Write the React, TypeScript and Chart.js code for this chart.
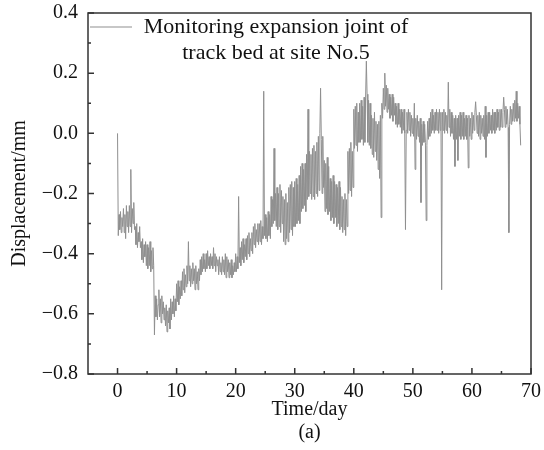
import React, { useEffect, useRef } from "react";
import { Chart, registerables } from "chart.js";

Chart.register(...registerables);

// Sampling step of the monitoring record (days)
const STEP_DAYS = 0.125;

// Displacement readings (mm), one per STEP_DAYS starting at day 0 (8 per day)
const displacement: number[] = [
  0.00, -0.34, -0.27, -0.32, -0.26, -0.33, -0.28, -0.31,
  -0.25, -0.33, -0.27, -0.35, -0.24, -0.31, -0.26, -0.33,
  -0.24, -0.31, -0.12, -0.33, -0.25, -0.30, -0.23, -0.32,
  -0.31, -0.37, -0.30, -0.38, -0.33, -0.36, -0.31, -0.38,
  -0.36, -0.42, -0.35, -0.43, -0.37, -0.41, -0.36, -0.44,
  -0.37, -0.45, -0.38, -0.44, -0.36, -0.46, -0.39, -0.45,
  -0.38, -0.44, -0.67, -0.54, -0.61, -0.55, -0.62, -0.57,
  -0.52, -0.61, -0.55, -0.63, -0.54, -0.60, -0.56, -0.62,
  -0.58, -0.64, -0.57, -0.66, -0.59, -0.63, -0.58, -0.65,
  -0.55, -0.62, -0.56, -0.60, -0.54, -0.61, -0.55, -0.59,
  -0.50, -0.56, -0.49, -0.57, -0.51, -0.55, -0.49, -0.54,
  -0.46, -0.52, -0.45, -0.53, -0.47, -0.51, -0.44, -0.50,
  -0.36, -0.49, -0.44, -0.51, -0.45, -0.50, -0.43, -0.49,
  -0.45, -0.52, -0.44, -0.50, -0.46, -0.52, -0.45, -0.49,
  -0.42, -0.47, -0.41, -0.46, -0.40, -0.45, -0.42, -0.46,
  -0.40, -0.45, -0.39, -0.44, -0.41, -0.45, -0.40, -0.44,
  -0.41, -0.45, -0.38, -0.44, -0.40, -0.46, -0.41, -0.44,
  -0.42, -0.47, -0.41, -0.46, -0.43, -0.47, -0.41, -0.46,
  -0.42, -0.47, -0.40, -0.48, -0.41, -0.46, -0.42, -0.48,
  -0.43, -0.47, -0.42, -0.48, -0.44, -0.47, -0.43, -0.46,
  -0.40, -0.46, -0.41, -0.45, -0.21, -0.43, -0.38, -0.44,
  -0.36, -0.42, -0.35, -0.43, -0.37, -0.41, -0.35, -0.42,
  -0.34, -0.40, -0.33, -0.41, -0.35, -0.39, -0.33, -0.40,
  -0.31, -0.37, -0.30, -0.38, -0.32, -0.36, -0.30, -0.37,
  -0.30, -0.36, -0.29, -0.37, -0.31, -0.35, 0.14, -0.34,
  -0.27, -0.35, -0.28, -0.36, -0.26, -0.34, -0.27, -0.35,
  -0.21, -0.31, -0.22, -0.30, -0.05, -0.29, -0.20, -0.31,
  -0.18, -0.32, -0.20, -0.31, -0.17, -0.33, -0.19, -0.30,
  -0.21, -0.36, -0.22, -0.37, -0.20, -0.35, -0.23, -0.36,
  -0.18, -0.33, -0.17, -0.32, -0.16, -0.34, -0.18, -0.31,
  -0.16, -0.31, -0.15, -0.30, -0.17, -0.29, -0.14, -0.30,
  -0.11, -0.26, -0.10, -0.25, -0.12, -0.24, -0.10, -0.26,
  -0.07, -0.22, 0.08, -0.21, -0.06, -0.20, -0.07, -0.22,
  -0.05, -0.21, -0.04, -0.22, -0.06, -0.20, -0.03, -0.21,
  -0.01, -0.19, 0.00, 0.15, -0.02, -0.20, -0.01, -0.18,
  -0.09, -0.26, -0.10, -0.25, -0.08, -0.27, -0.11, -0.26,
  -0.15, -0.29, -0.16, -0.28, -0.14, -0.30, -0.16, -0.28,
  -0.17, -0.31, -0.18, -0.30, -0.16, -0.32, -0.18, -0.31,
  -0.21, -0.33, -0.22, -0.32, -0.20, -0.34, -0.22, -0.31,
  -0.06, -0.20, -0.05, -0.19, -0.03, -0.21, -0.06, -0.18,
  0.08, -0.05, 0.09, -0.04, 0.10, -0.06, 0.07, -0.03,
  0.10, -0.03, 0.11, -0.02, 0.09, -0.04, 0.12, -0.03,
  0.12, 0.24, 0.13, -0.03, 0.11, -0.04, 0.10, -0.05,
  0.06, -0.07, 0.05, -0.08, 0.07, -0.06, 0.04, -0.09,
  0.03, -0.12, 0.04, -0.15, 0.06, -0.28, 0.10, 0.05,
  0.15, 0.08, 0.20, 0.09, 0.16, 0.07, 0.15, 0.08,
  0.13, 0.05, 0.12, 0.06, 0.13, 0.04, 0.12, 0.06,
  0.10, 0.03, 0.09, 0.02, 0.10, 0.03, 0.08, 0.02,
  0.08, 0.00, 0.07, 0.01, 0.08, 0.00, -0.32, 0.01,
  0.07, 0.00, 0.08, 0.01, 0.07, -0.01, 0.06, 0.00,
  0.05, -0.01, 0.10, -0.12, 0.05, -0.02, 0.06, -0.01,
  0.04, -0.03, 0.05, -0.23, 0.03, -0.04, 0.04, -0.03,
  0.03, -0.03, -0.29, -0.04, 0.04, -0.02, 0.05, -0.01,
  0.07, 0.00, 0.08, 0.01, 0.06, 0.00, 0.07, 0.01,
  0.08, 0.01, 0.07, 0.00, 0.08, 0.01, 0.07, -0.52,
  0.07, 0.01, 0.08, 0.00, 0.07, 0.01, 0.06, 0.00,
  0.17, 0.02, 0.08, -0.01, 0.07, 0.00, 0.06, -0.02,
  0.05, -0.11, 0.06, -0.02, 0.05, -0.09, 0.06, -0.01,
  0.07, -0.02, 0.06, -0.01, 0.07, -0.02, 0.05, -0.01,
  0.06, -0.02, 0.05, -0.115, 0.06, -0.01, 0.05, -0.02,
  0.07, 0.00, 0.06, 0.01, 0.07, 0.105, 0.06, 0.00,
  0.06, -0.01, 0.07, -0.02, 0.06, 0.00, 0.05, -0.01,
  0.06, -0.02, 0.09, -0.08, 0.06, -0.01, 0.07, 0.00,
  0.07, 0.01, 0.06, 0.00, 0.08, 0.01, 0.07, 0.00,
  0.07, 0.01, 0.08, 0.02, 0.07, 0.01, 0.08, 0.02,
  0.08, 0.02, 0.07, 0.12, 0.08, 0.02, 0.09, 0.03,
  0.08, 0.02, -0.33, 0.03, 0.09, 0.03, 0.08, 0.04,
  0.10, 0.04, 0.11, 0.05, 0.14, 0.04, 0.10, 0.05,
  0.09, 0.03, -0.04,
];

const xMajorTicks = [0, 10, 20, 30, 40, 50, 60, 70];
const xMinorTicks = [5, 15, 25, 35, 45, 55, 65];
const yMajorTicks = [-0.8, -0.6, -0.4, -0.2, 0.0, 0.2, 0.4];
const yMinorTicks = [-0.7, -0.5, -0.3, -0.1, 0.1, 0.3];

const legendLines = ["Monitoring expansion joint of", "track bed at site No.5"];
const xTitle = "Time/day";
const yTitle = "Displacement/mm";
const subCaption = "(a)";

const FONT = "'Liberation Serif', 'Times New Roman', serif";
const LINE_COLOR = "#8f8f8f";
const AXIS_COLOR = "#333333";

const decorPlugin = {
  id: "decor",
  afterDraw(chart: any) {
    const { ctx, chartArea, scales } = chart;
    const xs = scales.x;
    const ys = scales.y;
    const { left, right, top, bottom } = chartArea;
    ctx.save();
    ctx.strokeStyle = AXIS_COLOR;
    ctx.lineWidth = 1.5;
    ctx.strokeRect(left, top, right - left, bottom - top);
    ctx.beginPath();
    xMajorTicks.forEach((v) => {
      const px = xs.getPixelForValue(v);
      ctx.moveTo(px, bottom);
      ctx.lineTo(px, bottom - 6);
    });
    xMinorTicks.forEach((v) => {
      const px = xs.getPixelForValue(v);
      ctx.moveTo(px, bottom);
      ctx.lineTo(px, bottom - 3);
    });
    yMajorTicks.forEach((v) => {
      const py = ys.getPixelForValue(v);
      ctx.moveTo(left, py);
      ctx.lineTo(left + 6, py);
    });
    yMinorTicks.forEach((v) => {
      const py = ys.getPixelForValue(v);
      ctx.moveTo(left, py);
      ctx.lineTo(left + 3, py);
    });
    ctx.stroke();

    // legend
    ctx.strokeStyle = LINE_COLOR;
    ctx.lineWidth = 1;
    ctx.beginPath();
    ctx.moveTo(left + 2, top + 14);
    ctx.lineTo(left + 44, top + 14);
    ctx.stroke();
    ctx.fillStyle = "#111";
    ctx.font = `22px ${FONT}`;
    ctx.textAlign = "center";
    ctx.textBaseline = "middle";
    const cx = 276;
    legendLines.forEach((t, i) => ctx.fillText(t, cx, top + 14 + i * 26));

    // titles
    ctx.font = `20px ${FONT}`;
    ctx.fillText(xTitle, (left + right) / 2 + 0, 410);
    ctx.fillText(subCaption, (left + right) / 2 + 0, 433);
    ctx.translate(20, (top + bottom) / 2);
    ctx.rotate(-Math.PI / 2);
    ctx.fillText(yTitle, 0, 0);
    ctx.restore();
  },
};

const zeroPad = (s: any) => {
  s.paddingTop = 0;
  s.paddingBottom = 0;
  s.paddingLeft = 0;
  s.paddingRight = 0;
};

export default function App() {
  const ref = useRef<HTMLCanvasElement>(null);
  useEffect(() => {
    const points = displacement.map((v, i) => ({ x: i * STEP_DAYS, y: v }));
    const chart = new Chart(ref.current!, {
      type: "line",
      data: {
        datasets: [
          {
            data: points,
            borderColor: LINE_COLOR,
            borderWidth: 1,
            pointRadius: 0,
            tension: 0,
          },
        ],
      },
      options: {
        animation: false,
        responsive: false,
        maintainAspectRatio: false,
        layout: { padding: { left: 0, right: 13, top: 13, bottom: 0 } },
        plugins: { legend: { display: false }, tooltip: { enabled: false } },
        scales: {
          x: {
            type: "linear",
            min: -5,
            max: 70,
            afterBuildTicks: (s: any) => {
              s.ticks = xMajorTicks.map((v) => ({ value: v }));
            },
            afterFit: (s: any) => {
              s.height = 76;
              zeroPad(s);
            },
            grid: { display: false, drawTicks: false },
            border: { display: false },
            ticks: {
              padding: 6,
              color: "#111",
              font: { family: FONT, size: 20 },
              maxRotation: 0,
              callback: (v: any) => String(v),
            },
          },
          y: {
            type: "linear",
            min: -0.8,
            max: 0.4,
            afterBuildTicks: (s: any) => {
              s.ticks = yMajorTicks.map((v) => ({ value: v }));
            },
            afterFit: (s: any) => {
              s.width = 88;
              zeroPad(s);
            },
            grid: { display: false, drawTicks: false },
            border: { display: false },
            ticks: {
              padding: 10,
              color: "#111",
              font: { family: FONT, size: 20 },
              callback: (v: any) => {
                const n = Number(v);
                const s = Math.abs(n).toFixed(1);
                return n < -1e-9 ? "\u2212" + s : s;
              },
            },
          },
        },
      },
      plugins: [decorPlugin],
    });
    return () => chart.destroy();
  }, []);
  return (
    <div style={{ position: "fixed", left: 0, top: 0, width: 544, height: 450, background: "#fff" }}>
      <canvas ref={ref} width={544} height={450} style={{ width: 544, height: 450 }} />
    </div>
  );
}
